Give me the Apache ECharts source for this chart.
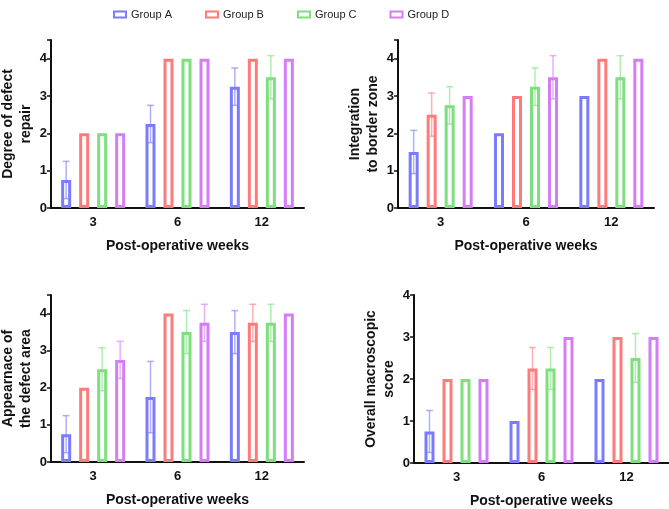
<!DOCTYPE html>
<html>
<head>
<meta charset="utf-8">
<script src="https://cdn.jsdelivr.net/npm/echarts@6/dist/echarts.min.js"></script>
<style>
html,body{margin:0;padding:0;background:#fff;}
#main{width:669px;height:509px;}
</style>
</head>
<body>
<div id="main"></div>
<script>
var weeks = ['3', '6', '12'];
var groups = ['Group A', 'Group B', 'Group C', 'Group D'];
var colors = ['#7b7bff', '#ff7b7b', '#7ddf7d', '#d47df7'];

// mean / sd per group, per week
var repairMean = [[0.75, 2.25, 3.25], [2, 4, 4], [2, 4, 3.5], [2, 4, 4]];
var repairSd   = [[0.5, 0.5, 0.5], [0, 0, 0], [0, 0, 0.58], [0, 0, 0]];

var borderMean = [[1.5, 2, 3], [2.5, 3, 4], [2.75, 3.25, 3.5], [3, 3.5, 4]];
var borderSd   = [[0.58, 0, 0], [0.58, 0, 0], [0.5, 0.5, 0.58], [0, 0.58, 0]];

var appearMean = [[0.75, 1.75, 3.5], [2, 4, 3.75], [2.5, 3.5, 3.75], [2.75, 3.75, 4]];
var appearSd   = [[0.5, 0.96, 0.58], [0, 0, 0.5], [0.58, 0.58, 0.5], [0.5, 0.5, 0]];

var overallMean = [[0.75, 1, 2], [2, 2.25, 3], [2, 2.25, 2.5], [2, 3, 3]];
var overallSd   = [[0.5, 0, 0], [0, 0.5, 0], [0, 0.5, 0.58], [0, 0, 0]];

var yTicks = [0, 1, 2, 3, 4];

var panels = [
    {title: 'Degree of defect\nrepair', mean: repairMean, sd: repairSd, max: 4.5,
        grid: {left: 51, top: 40, width: 253, height: 168}},
    {title: 'Integration\nto border zone', mean: borderMean, sd: borderSd, max: 4.5,
        grid: {left: 398, top: 40, width: 256, height: 168}},
    {title: 'Appearnace of\nthe defect area', mean: appearMean, sd: appearSd, max: 4.5,
        grid: {left: 51, top: 295, width: 253, height: 167}},
    {title: 'Overall macroscopic\nscore', mean: overallMean, sd: overallSd, max: 4,
        grid: {left: 414, top: 295, width: 255, height: 168}}
];

var font = 'Liberation Sans, Arial, sans-serif';
var barW = 10;
var barStep = 18;

var chart = echarts.init(document.getElementById('main'));

var grids = [], xAxes = [], yAxes = [], series = [];

panels.forEach(function (p, k) {
    var g = p.grid;
    g.containLabel = false;
    g.outerBoundsMode = 'none';
    grids.push(g);
    xAxes.push({
        type: 'category',
        gridIndex: k,
        data: weeks,
        name: 'Post-operative weeks',
        nameLocation: 'middle',
        nameGap: 31,
        nameTextStyle: {fontFamily: font, fontSize: 14, fontWeight: 'bold', color: '#111'},
        axisLine: {lineStyle: {color: '#111', width: 2}},
        axisTick: {alignWithLabel: true, length: 4, lineStyle: {color: '#111', width: 1.5}},
        axisLabel: {fontFamily: font, fontSize: 13, fontWeight: 'bold', color: '#111', margin: 8}
    });
    yAxes.push({
        type: 'value',
        gridIndex: k,
        min: 0,
        max: p.max,
        interval: 1,
        name: p.title,
        nameLocation: 'middle',
        nameGap: 16,
        nameTextStyle: {fontFamily: font, fontSize: 14, fontWeight: 'bold', color: '#111', lineHeight: 18},
        axisLine: {show: true, lineStyle: {color: '#111', width: 2}},
        axisTick: {show: true, length: 4, lineStyle: {color: '#111', width: 1.5}},
        axisLabel: {
            fontFamily: font, fontSize: 13, fontWeight: 'bold', color: '#111', margin: 4,
            formatter: function (v) { return yTicks.indexOf(v) >= 0 ? String(v) : ''; }
        },
        splitLine: {show: false}
    });

    groups.forEach(function (name, i) {
        series.push({
            name: name,
            type: 'bar',
            xAxisIndex: k,
            yAxisIndex: k,
            barWidth: barW,
            barGap: ((barStep - barW) / barW * 100) + '%',
            itemStyle: {color: '#fff', borderColor: colors[i], borderWidth: 3},
            emphasis: {disabled: true},
            data: p.mean[i]
        });
    });

    groups.forEach(function (name, i) {
        var errData = [];
        p.mean[i].forEach(function (m, j) {
            var s = p.sd[i][j];
            if (s > 0) errData.push([j, m - s, m + s]);
        });
        series.push({
            name: name + ' error',
            type: 'custom',
            xAxisIndex: k,
            yAxisIndex: k,
            z: 3,
            silent: true,
            renderItem: function (params, api) {
                var lo = api.coord([api.value(0), api.value(1)]);
                var hi = api.coord([api.value(0), api.value(2)]);
                var x = lo[0] + (i - 1.5) * barStep;
                var cap = 3.5;
                var st = {stroke: colors[i], lineWidth: 1.5, opacity: 0.6};
                return {
                    type: 'group',
                    children: [
                        {type: 'line', shape: {x1: x, y1: lo[1], x2: x, y2: hi[1]}, style: st},
                        {type: 'line', shape: {x1: x - cap, y1: lo[1], x2: x + cap, y2: lo[1]}, style: st},
                        {type: 'line', shape: {x1: x - cap, y1: hi[1], x2: x + cap, y2: hi[1]}, style: st}
                    ]
                };
            },
            encode: {x: 0, y: [1, 2]},
            data: errData
        });
    });
});

chart.setOption({
    animation: false,
    legend: {
        top: 4,
        left: 108,
        data: groups,
        icon: 'rect',
        itemWidth: 12,
        itemHeight: 6,
        itemGap: 33,
        itemStyle: {borderWidth: 2},
        textStyle: {fontFamily: font, fontSize: 11, color: '#222'}
    },
    grid: grids,
    xAxis: xAxes,
    yAxis: yAxes,
    series: series
});
</script>
</body>
</html>
